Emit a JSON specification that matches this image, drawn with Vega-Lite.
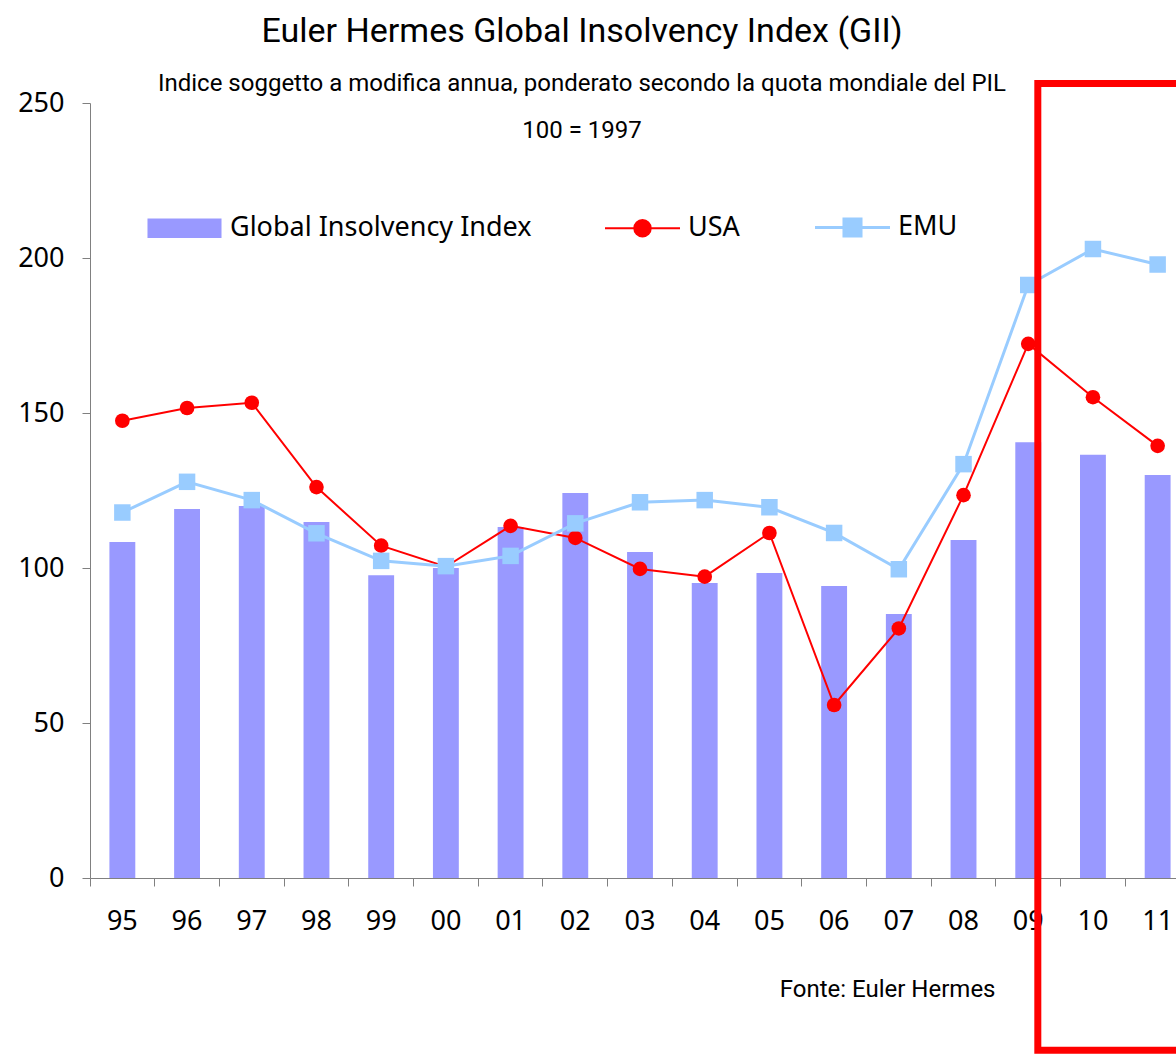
{
  "$schema": "https://vega.github.io/schema/vega-lite/v6.json",
  "width": 1086,
  "height": 775,
  "autosize": {"type": "none"},
  "padding": {"left": 90, "top": 103, "right": 0, "bottom": 178},
  "background": "white",
  "config": {"view": {"stroke": null}, "axis": {"grid": false}},
  "title": {
    "text": "Euler Hermes Global Insolvency Index (GII)",
    "subtitle": ["Indice soggetto a modifica annua, ponderato secondo la quota mondiale del PIL", "100 = 1997"],
    "anchor": "middle",
    "frame": "group",
    "dx": -51,
    "offset": -63,
    "font": "Roboto",
    "fontSize": 34,
    "fontWeight": "normal",
    "color": "#000000",
    "subtitleFont": "Roboto",
    "subtitleFontSize": 24,
    "subtitleColor": "#000000",
    "subtitleLineHeight": 47,
    "subtitlePadding": 22.5
  },
  "datasets": {
    "main": [
      {"yr": "95", "GII": 108.4, "USA": 147.5, "EMU": 117.9},
      {"yr": "96", "GII": 119.0, "USA": 151.6, "EMU": 127.8},
      {"yr": "97", "GII": 120.0, "USA": 153.3, "EMU": 121.9},
      {"yr": "98", "GII": 114.8, "USA": 126.1, "EMU": 111.2},
      {"yr": "99", "GII": 97.7, "USA": 107.2, "EMU": 102.3},
      {"yr": "00", "GII": 100.0, "USA": 100.4, "EMU": 100.6},
      {"yr": "01", "GII": 113.2, "USA": 113.6, "EMU": 103.9},
      {"yr": "02", "GII": 124.2, "USA": 109.7, "EMU": 114.4},
      {"yr": "03", "GII": 105.2, "USA": 99.7, "EMU": 121.2},
      {"yr": "04", "GII": 95.2, "USA": 97.2, "EMU": 121.9},
      {"yr": "05", "GII": 98.4, "USA": 111.3, "EMU": 119.6},
      {"yr": "06", "GII": 94.2, "USA": 55.8, "EMU": 111.3},
      {"yr": "07", "GII": 85.2, "USA": 80.5, "EMU": 99.6},
      {"yr": "08", "GII": 109.0, "USA": 123.5, "EMU": 133.5},
      {"yr": "09", "GII": 140.6, "USA": 172.3, "EMU": 191.3},
      {"yr": "10", "GII": 136.5, "USA": 155.1, "EMU": 202.9},
      {"yr": "11", "GII": 130.0, "USA": 139.4, "EMU": 197.9}
    ],
    "box": [
      {"from": "09", "to": "11", "top": 256.3, "bottom": -55.6}
    ]
  },
  "layer": [
    {
      "data": {"name": "main"},
      "mark": {"type": "bar", "width": {"band": 0.4}},
      "encoding": {
        "x": {
          "field": "yr",
          "type": "ordinal",
          "scale": {
            "type": "band",
            "domain": ["95","96","97","98","99","00","01","02","03","04","05","06","07","08","09","10","11"],
            "paddingInner": 0,
            "paddingOuter": 0,
            "range": [0, 1100]
          },
          "axis": {
            "title": "Fonte: Euler Hermes",
            "titleFont": "Roboto",
            "titleFontSize": 24,
            "titleFontWeight": "normal",
            "titleColor": "#000000",
            "titleX": 905,
            "titleY": 118.7,
            "titleAlign": "right",
            "titleAnchor": "start",
            "titleBaseline": "alphabetic",
            "labelFont": "Noto Sans",
            "labelFontSize": 27,
            "labelColor": "#000000",
            "labelAngle": 0,
            "labelPadding": 22,
            "labelOverlap": false,
            "labelFlush": false,
            "bandPosition": 0,
            "tickSize": 8,
            "tickColor": "#808080",
            "domainColor": "#808080"
          }
        },
        "y": {
          "field": "GII",
          "type": "quantitative",
          "scale": {"domain": [0, 250], "nice": false, "zero": true},
          "axis": {
            "title": null,
            "values": [0, 50, 100, 150, 200, 250],
            "labelFont": "Noto Sans",
            "labelFontSize": 27,
            "labelColor": "#000000",
            "labelPadding": 18,
            "tickSize": 8,
            "tickColor": "#808080",
            "domainColor": "#808080"
          }
        },
        "color": {
          "datum": "Global Insolvency Index",
          "scale": {
            "domain": ["Global Insolvency Index", "USA", "EMU"],
            "range": ["#9999FF", "#FF0000", "#99CCFF"]
          },
          "legend": {
            "orient": "none",
            "legendX": 81,
            "legendY": 110.5,
            "direction": "horizontal",
            "title": null,
            "padding": 0,
            "labelFont": "Noto Sans",
            "labelFontSize": 27,
            "labelColor": "#000000",
            "labelLimit": 500,
            "labelOffset": 32,
            "columnPadding": 69,
            "symbolSize": 5625,
            "encode": {
              "symbols": {
                "update": {
                  "shape": {"signal": "datum.value === 'USA' ? 'M-1,0H1M-0.22,0A0.22,0.22,0,1,0,0.22,0A0.22,0.22,0,1,0,-0.22,0Z' : datum.value === 'EMU' ? 'M-1,0H1M-0.227,-0.227H0.227V0.227H-0.227Z' : 'M-0.987,-0.262H0.987V0.262H-0.987Z'"},
                  "fill": {"scale": "color", "field": "value"},
                  "stroke": {"scale": "color", "field": "value"},
                  "strokeWidth": {"signal": "datum.value === 'USA' ? 2 : datum.value === 'EMU' ? 3 : 0"},
                  "opacity": {"value": 1},
                  "fillOpacity": {"value": 1},
                  "strokeOpacity": {"value": 1}
                }
              }
            }
          }
        }
      }
    },
    {
      "data": {"name": "main"},
      "mark": {"type": "line", "strokeWidth": 2},
      "encoding": {
        "x": {"field": "yr", "type": "ordinal"},
        "y": {"field": "USA", "type": "quantitative"},
        "color": {"datum": "USA"}
      }
    },
    {
      "data": {"name": "main"},
      "mark": {"type": "point", "shape": "circle", "filled": true, "opacity": 1, "size": 214},
      "encoding": {
        "x": {"field": "yr", "type": "ordinal"},
        "y": {"field": "USA", "type": "quantitative"},
        "color": {"datum": "USA"}
      }
    },
    {
      "data": {"name": "main"},
      "mark": {"type": "line", "strokeWidth": 3},
      "encoding": {
        "x": {"field": "yr", "type": "ordinal"},
        "y": {"field": "EMU", "type": "quantitative"},
        "color": {"datum": "EMU"}
      }
    },
    {
      "data": {"name": "main"},
      "mark": {"type": "point", "shape": "square", "filled": true, "opacity": 1, "size": 272},
      "encoding": {
        "x": {"field": "yr", "type": "ordinal"},
        "y": {"field": "EMU", "type": "quantitative"},
        "color": {"datum": "EMU"}
      }
    },
    {
      "data": {"name": "box"},
      "mark": {"type": "rect", "filled": false, "stroke": "#FF0000", "strokeWidth": 7, "clip": false},
      "encoding": {
        "x": {"field": "from", "type": "ordinal", "bandPosition": 0.648},
        "x2": {"field": "to", "bandPosition": 1},
        "y": {"field": "top", "type": "quantitative"},
        "y2": {"field": "bottom"}
      }
    }
  ]
}
